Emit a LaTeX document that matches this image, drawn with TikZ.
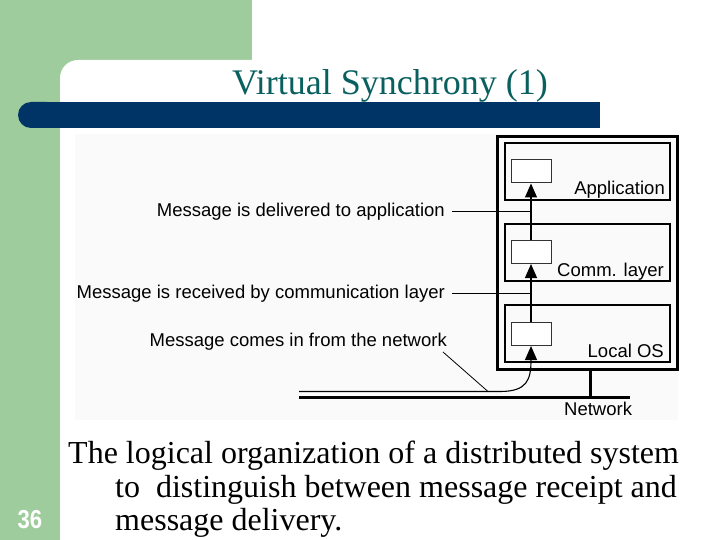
\documentclass[tikz,border=0pt]{standalone}
\usepackage{fontspec}
\setmainfont{Liberation Serif}
\setsansfont{Liberation Sans}
\usetikzlibrary{arrows.meta}
\definecolor{slidegreen}{RGB}{158,204,156}
\definecolor{slideblue}{RGB}{0,51,102}
\definecolor{titleteal}{RGB}{10,95,95}
\tikzset{
  outerbox/.style={draw=black,line width=3pt},
  layerbox/.style={draw=black,line width=1.6pt},
  msgbox/.style={draw=black!80,line width=1pt,minimum width=40pt,minimum height=23pt,inner sep=0pt},
  layerlabel/.style={font=\sffamily\fontsize{18.5}{18.5}\selectfont,anchor=base east,inner sep=0pt},
  notelabel/.style={font=\sffamily\fontsize{18.5}{18.5}\selectfont,anchor=base east,inner sep=0pt},
  flow/.style={line width=1.1pt,-{Triangle[length=14pt,width=12pt]}},
  leader/.style={line width=0.8pt},
  bodytext/.style={font=\fontsize{32}{32}\selectfont,anchor=base west,inner sep=0pt}
}
\begin{document}
\begin{tikzpicture}[x=1pt,y=-1pt]
\useasboundingbox (0,0) rectangle (720,540);
% slide background
\fill[white] (0,0) rectangle (720,540);
\fill[slidegreen] (0,0) rectangle (252,60);
\fill[slidegreen] (0,0) rectangle (60,540);
\fill[slidegreen] (60,60) rectangle (80,80);
\fill[white,rounded corners=18pt] (60,60) rectangle (300,200);
\fill[slideblue,rounded corners=13pt] (18,102) rectangle (60,128);
\fill[slideblue] (40,102) rectangle (600,128);
\node[font=\fontsize{36}{36}\selectfont,text=titleteal,anchor=base,inner sep=0pt] (title) at (390,95) {Virtual Synchrony (1)};
% diagram background
\fill[black!2] (75,134) rectangle (678,420);
% boxes
\draw[outerbox] (497,137) rectangle (677,369);
\draw[layerbox] (505,143) rectangle (670,200);
\draw[layerbox] (505,224) rectangle (670,281);
\draw[layerbox] (505,305) rectangle (670,362);
\node[msgbox,fill=white] (appmsg) at (531,171.5) {};
\node[msgbox,fill=white] (commmsg) at (531,252) {};
\node[msgbox,fill=white] (osmsg) at (531,334) {};
\node[layerlabel] (applbl) at (665,195) {Application};
\node[layerlabel] (commlbl) at (664,276) {Comm. layer};
\node[layerlabel] (oslbl) at (664,357) {Local OS};
% network
\coordinate (netL) at (299,397);
\coordinate (netR) at (630,397);
\coordinate (stemtop) at (590,369);
\coordinate (stembot) at (590,397);
\draw[line width=3pt] (netL) -- (netR);
\draw[line width=3pt] (stemtop) -- (stembot);
\node[font=\sffamily\fontsize{18.5}{18.5}\selectfont,anchor=base west,inner sep=0pt] (netlbl) at (564,415) {Network};
% message flow
\coordinate (inL) at (299,391.5);
\coordinate (inBend) at (500,391.5);
\draw[flow] (inL) -- (inBend) .. controls (527,391.5) and (531,380) .. (osmsg.south);
\draw[flow] (osmsg.north) -- (commmsg.south);
\draw[flow] (commmsg.north) -- (appmsg.south);
% notes
\node[notelabel] (deliv) at (445,217) {Message is delivered to application};
\node[notelabel] (recv) at (445,298) {Message is received by communication layer};
\node[notelabel] (comes) at (447,346) {Message comes in from the network};
\coordinate (delivpt) at (531,211);
\coordinate (recvpt) at (531,293);
\coordinate (comespt) at (488,391.5);
\draw[leader] ([xshift=7pt]deliv.east |- delivpt) -- (delivpt);
\draw[leader] ([xshift=7pt]recv.east |- recvpt) -- (recvpt);
\draw[leader] (443,352) -- (comespt);
% bottom text
\node[bodytext] (line1) at (68,463) {The logical organization of a distributed system};
\node[bodytext] (line2) at (115,497) {to\ \ distinguish between message receipt and};
\node[bodytext] (line3) at (115,530) {message delivery.};
\node[font=\sffamily\bfseries\fontsize{26}{26}\selectfont,text=white,anchor=base,inner sep=0pt,xscale=0.85] (pagenum) at (30,528) {36};
\end{tikzpicture}
\end{document}
